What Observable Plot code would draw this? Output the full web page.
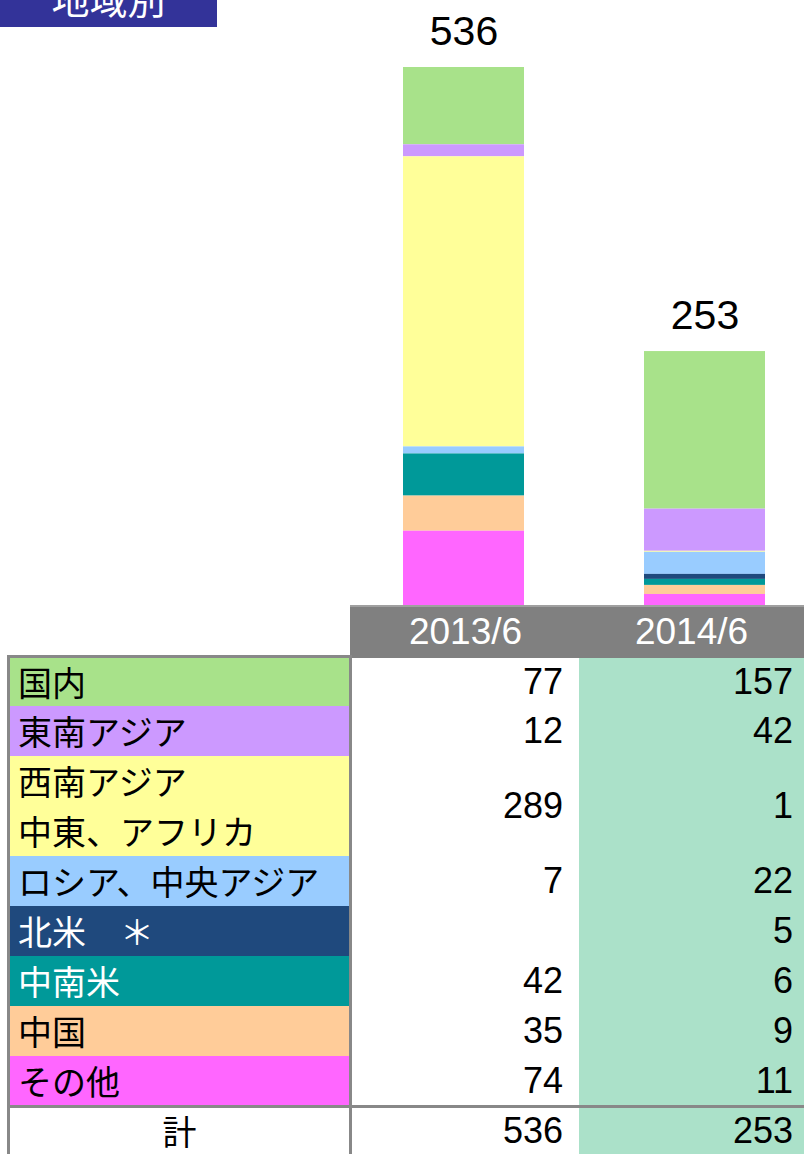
<!DOCTYPE html>
<html>
<head>
<meta charset="utf-8">
<script src="https://cdn.jsdelivr.net/npm/d3@7"></script>
<script src="https://cdn.jsdelivr.net/npm/@observablehq/plot@0.6"></script>
<style>
  html, body { margin: 0; padding: 0; background: #fff; }
  #wrap { position: relative; width: 804px; height: 1154px; overflow: hidden; background: #fff; }
  #wrap svg { position: absolute; left: 0; top: 0; }
  .abs { position: absolute; box-sizing: border-box; }
  .lbl { font-family: "Noto Sans CJK JP", sans-serif; font-size: 34px; line-height: 50px; padding-left: 8px; white-space: pre; }
  .num { font-family: "Liberation Sans", Arial, sans-serif; font-size: 36px; text-align: right; display: flex; align-items: center; justify-content: flex-end; }
  .hdr { font-family: "Liberation Sans", Arial, sans-serif; font-size: 37px; color: #fff; display: flex; align-items: center; justify-content: center; }
</style>
</head>
<body>
<div id="wrap"></div>
<script>
const periods = ["2013/6", "2014/6"];
const regions = ["国内", "東南アジア", "西南アジア\n中東、アフリカ", "ロシア、中央アジア", "北米　＊", "中南米", "中国", "その他"];
const values2013 = [77, 12, 289, 7, null, 42, 35, 74];
const values2014 = [157, 42, 1, 22, 5, 6, 9, 11];
const totals = [536, 253];
const totalLabel = "計";
const title = "地域別";
const regionColors = ["#A8E28A", "#CC99FF", "#FFFF99", "#99CCFF", "#1F497D", "#009999", "#FFCC99", "#FF66FF"];
const labelTextColors = ["#000", "#000", "#000", "#000", "#fff", "#fff", "#000", "#000"];

const series = [values2013, values2014];
const data = [];
periods.forEach((p, pi) => {
  regions.forEach((r, ri) => {
    const v = series[pi][ri];
    if (v != null) data.push({period: p, region: r, value: v});
  });
});
const totalData = periods.map((p, i) => ({period: p, total: totals[i]}));

const wrap = document.getElementById("wrap");

const chart = Plot.plot({
  width: 804,
  height: 605,
  margin: 0,
  style: {background: "transparent", overflow: "visible"},
  x: {domain: periods, range: [342.6, 825.6], paddingInner: 0.5, paddingOuter: 0.25, axis: null},
  y: {domain: [0, 536], range: [605, 67], axis: null},
  color: {domain: regions, range: regionColors},
  marks: [
    Plot.barY(data, {x: "period", y: "value", fill: "region", z: "region", order: [...regions].reverse()}),
    Plot.text(totalData, {x: "period", y: "total", text: d => String(d.total), lineAnchor: "bottom", dy: -23, fontSize: 41, fill: "#000", fontFamily: "Liberation Sans, Arial, sans-serif"})
  ]
});
wrap.appendChild(chart);

function box(l, t, w, h, bg, cls, text, color) {
  const d = document.createElement("div");
  d.className = "abs" + (cls ? " " + cls : "");
  d.style.left = l + "px"; d.style.top = t + "px";
  d.style.width = w + "px"; d.style.height = h + "px";
  if (bg) d.style.background = bg;
  if (color) d.style.color = color;
  if (text != null) d.textContent = text;
  wrap.appendChild(d);
  return d;
}

// Title
const t = box(0, 0, 217, 27, "#333399");
t.style.overflow = "hidden";
const ts = document.createElement("div");
ts.textContent = title;
ts.style.cssText = "position:absolute;left:0;width:217px;top:-22px;text-align:center;color:#fff;font-family:'Noto Sans CJK JP',sans-serif;font-size:38px;line-height:40px;";
t.appendChild(ts);

// Header
box(350, 605, 454, 53, "#808080");
box(350, 605, 454, 2, "#A0A0A0");
box(352, 605, 227, 53, null, "hdr", periods[0]);
box(579, 605, 225, 53, null, "hdr", periods[1]);

// Column 2 background
box(579, 658, 225, 496, "#ABE1C9");

// Rows
let y = 656;
const rowH = 50;
regions.forEach((r, i) => {
  const span = r.includes("\n") ? 2 : 1;
  const h = rowH * span;
  const top = i === 0 ? 658 : y;
  const hh = i === 0 ? h - 2 : h;
  const lb = box(10, top, 339, hh, regionColors[i], "lbl", r, labelTextColors[i]);
  if (i === 0) lb.style.lineHeight = hh + "px";
  const v1 = values2013[i];
  const v2 = values2014[i];
  const n1 = box(352, top, 227, hh, null, "num", v1 == null ? "" : String(v1));
  n1.style.paddingRight = "16px";
  const n2 = box(579, top, 225, hh, null, "num", v2 == null ? "" : String(v2));
  n2.style.paddingRight = "11px";
  y += h;
});
// Total row
const tl = box(10, 1108, 339, 46, null, "lbl", totalLabel);
tl.style.textAlign = "center"; tl.style.paddingLeft = "0"; tl.style.lineHeight = "46px";
const t1 = box(352, 1108, 227, 46, null, "num", String(totals[0])); t1.style.paddingRight = "16px";
const t2 = box(579, 1108, 225, 46, null, "num", String(totals[1])); t2.style.paddingRight = "11px";

// Grid lines
const lineC = "#888888";
box(7, 655, 345, 3, lineC);       // top border of label column
box(7, 655, 3, 499, lineC);       // left border
box(349, 655, 3, 499, lineC);     // divider between labels and values
box(7, 1105, 797, 3, lineC);      // line above total row
</script>
</body>
</html>
